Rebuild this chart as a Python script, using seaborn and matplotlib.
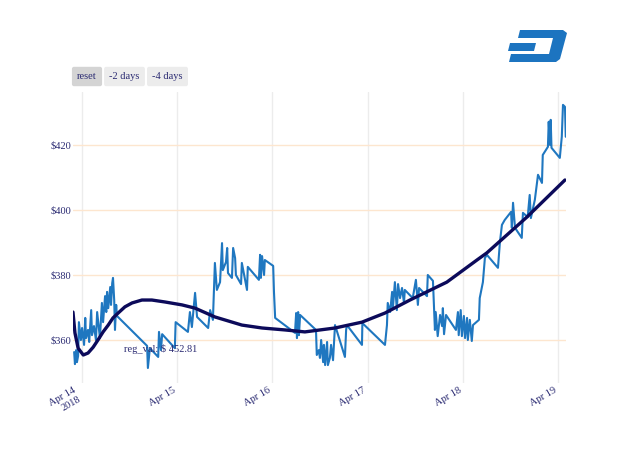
import pandas as pd
import numpy as np
import matplotlib
matplotlib.use('Agg')
import matplotlib.pyplot as plt
from matplotlib.patches import Polygon
import seaborn as sns

# price series: hours after 2018-04-14 00:00 and price in $
hours = [-2.0, -1.8, -1.5, -1.3, -1.0, -0.8, -0.3, 0.0, 0.5, 0.8, 1.0, 1.5, 1.8, 2.3, 2.5,
         3.0, 3.5, 3.8, 4.3, 4.5, 5.0, 5.3, 5.8, 6.1, 6.3, 6.6, 7.1, 7.3, 7.6, 7.8,
         8.1, 8.3, 8.6, 8.8, 16.4, 16.6, 17.1, 19.2, 19.4, 19.9, 20.2, 23.4, 23.6, 26.7, 27.2,
         27.7, 28.5, 29.0, 31.8, 32.3, 33.0, 33.5, 34.0, 34.8, 35.3, 35.5, 36.3, 36.6, 36.8,
         37.8, 38.1, 38.6, 38.8, 40.1, 40.3, 41.6, 41.8, 44.6, 44.9, 45.1, 45.4, 45.9, 46.1,
         48.2, 48.4, 48.7, 53.7, 54.0, 54.2, 54.5, 54.7, 55.0, 59.0, 59.2, 59.7, 60.0, 60.3,
         60.8, 61.0, 61.3, 61.8, 62.0, 62.5, 62.8, 63.3, 63.8, 66.3, 66.6, 66.8, 70.6, 70.7,
         76.4, 76.9, 77.1, 77.7, 78.2, 78.4, 78.9, 79.4, 79.7, 80.2, 80.7, 81.2, 81.4, 83.4,
         84.2, 84.7, 85.0, 87.0, 87.2, 88.5, 89.0, 89.2, 89.7, 90.3, 90.8, 91.0, 91.3, 91.8,
         94.3, 94.8, 95.0, 95.5, 95.8, 96.3, 96.6, 97.1, 97.3, 97.8, 98.3, 98.6, 100.1, 100.3,
         101.1, 101.6, 102.1, 104.9, 105.4, 105.9, 106.6, 108.2, 108.4, 108.7, 109.2, 110.9,
         111.2, 112.4, 112.9, 113.2, 114.2, 115.0, 116.0, 116.2, 117.5, 117.7, 118.0, 118.2,
         118.4, 120.5, 121.0, 121.3, 121.8, 122.0]
price = [356.3, 352.6, 356.9, 353.2, 355.1, 365.5, 360.0, 363.7, 358.5, 366.8, 360.6, 363.1, 359.4, 369.2, 361.5,
         364.3, 360.0, 368.6, 363.1, 360.6, 371.4, 365.5, 373.5, 368.6, 374.8, 369.8, 376.3, 370.8, 377.5, 379.1,
         372.3, 363.1, 370.8, 367.4, 358.2, 351.4, 357.5, 354.8, 362.5, 356.9, 361.8, 357.5, 365.5, 362.5, 368.6,
         364.0, 374.5, 367.1, 363.7, 369.2, 366.2, 383.7, 375.4, 377.8, 389.8, 381.5, 384.0, 388.3, 380.6,
         379.1, 388.3, 385.2, 380.0, 377.2, 383.7, 375.4, 382.5, 378.5, 386.2, 379.1, 385.8, 380.0, 384.6,
         382.8, 374.8, 366.8, 362.2, 368.3, 360.6, 368.6, 361.5, 367.7, 363.1, 355.4, 356.9, 354.5, 360.0,
         353.2, 358.5, 352.3, 359.4, 352.3, 354.5, 358.5, 353.8, 364.6, 354.8, 363.1, 364.6, 358.5, 365.2,
         358.5, 364.6, 371.4, 368.6, 374.8, 369.8, 377.8, 369.2, 377.2, 372.9, 376.0, 371.4, 375.4, 372.9,
         378.5, 370.8, 376.0, 373.5, 380.0, 378.2, 363.1, 368.6, 361.2, 367.7, 364.3, 369.8, 361.8, 367.7,
         363.1, 368.6, 361.5, 369.2, 361.2, 367.4, 360.6, 366.8, 360.0, 366.2, 359.7, 364.6, 366.2, 372.9,
         377.8, 385.2, 386.2, 382.2, 390.2, 395.4, 396.9, 399.4, 394.5, 402.2, 394.5, 391.4,
         399.1, 397.8, 404.6, 397.5, 403.1, 410.8, 408.3, 416.9, 419.4, 427.1, 420.0, 427.7,
         419.1, 416.0, 422.5, 432.3, 431.7, 422.5]

# regression curve
reg_hours = [-2.3, -1.8, -1.0, 0.3, 1.5, 2.8, 4.0, 5.3, 6.6, 7.8, 9.1, 10.8, 12.6, 15.1, 17.6,
             20.9, 25.2, 28.5, 33.5, 40.3, 45.4, 51.2, 56.2, 63.8, 70.6, 76.4, 82.7, 92.0,
             99.6, 102.1, 112.2, 121.8]
reg_price = [368.6, 362.2, 357.5, 355.4, 356.0, 357.8, 360.0, 362.5, 364.6, 366.8, 368.3, 370.2,
             371.4, 372.3, 372.3, 371.7, 370.8, 369.8, 367.1, 364.6, 363.7, 363.1, 362.5, 363.7,
             365.5, 368.3, 372.3, 377.8, 384.6, 386.8, 397.8, 409.2]

tick_days = ['2018-04-14', '2018-04-15', '2018-04-16', '2018-04-17', '2018-04-18', '2018-04-19']
tick_labels = ['Apr 14\n2018', 'Apr 15', 'Apr 16', 'Apr 17', 'Apr 18', 'Apr 19']
y_ticks = [360, 380, 400, 420]
buttons = ['reset', '-2 days', '-4 days']
reg_label = 'reg_val: $ 452.81'

start = pd.Timestamp('2018-04-14')
df = pd.DataFrame({'time': start + pd.to_timedelta(hours, unit='h'), 'price': price})
reg = pd.DataFrame({'time': start + pd.to_timedelta(reg_hours, unit='h'), 'price': reg_price})

sns.set_style('white')
plt.rcParams['font.family'] = ['Liberation Serif', 'DejaVu Serif']
txt = '#2a2a72'
fs = 7.5

fig = plt.figure(figsize=(6.4, 4.57), dpi=100)
ax = fig.add_axes([0.114, 0.162, 0.77, 0.637])

sns.lineplot(data=df, x='time', y='price', ax=ax, color='#1f77c0', lw=1.5,
             estimator=None, sort=False)
sns.lineplot(data=reg, x='time', y='price', ax=ax, color='#0c0a5a', lw=2.4,
             estimator=None, sort=False)

ax.set_xlim(reg['time'].min(), df['time'].max())
ax.set_ylim(346.8, 436.3)
ax.set_xticks(pd.to_datetime(tick_days))
ax.set_xticklabels(tick_labels, rotation=30, ha='right', fontsize=fs, color=txt)
ax.set_yticks(y_ticks)
ax.set_yticklabels(['$%d' % v for v in y_ticks], fontsize=fs, color=txt)
ax.tick_params(axis='x', length=0, pad=2)
ax.tick_params(axis='y', length=0, pad=1)
ax.set_xlabel('')
ax.set_ylabel('')
for s in ax.spines.values():
    s.set_visible(False)
ax.xaxis.grid(True, color='#ececec', lw=1)
ax.yaxis.grid(True, color='#fde6cf', lw=1)
ax.set_axisbelow(True)

ax.text(0.104, 0.118, reg_label, transform=ax.transAxes, fontsize=fs, color=txt,
        va='center', ha='left')

# range buttons
def fx(px):
    return px / 640

def fy(py):
    return 1 - py / 457

for label, cx, bg in zip(buttons, [87, 124.5, 167.5], ['#d4d4d4', '#ececec', '#ececec']):
    fig.text(fx(cx), fy(76.5), label, ha='center', va='center', fontsize=fs, color=txt,
             bbox=dict(boxstyle='round,pad=0.5,rounding_size=0.2', fc=bg, ec='none'))

# dash logo
logo = '#1c74c0'
shapes = [
    [(520, 30), (563, 30), (567, 33), (560, 59), (556, 62), (509, 62), (511, 54),
     (549, 54), (553, 38), (518, 38)],
    [(510, 43), (536, 43), (534, 51), (508, 51)],
]
for pts in shapes:
    fig.add_artist(Polygon([(fx(x), fy(y)) for x, y in pts], closed=True,
                           transform=fig.transFigure, fc=logo, ec='none'))

fig.savefig('out.png', dpi=100)
